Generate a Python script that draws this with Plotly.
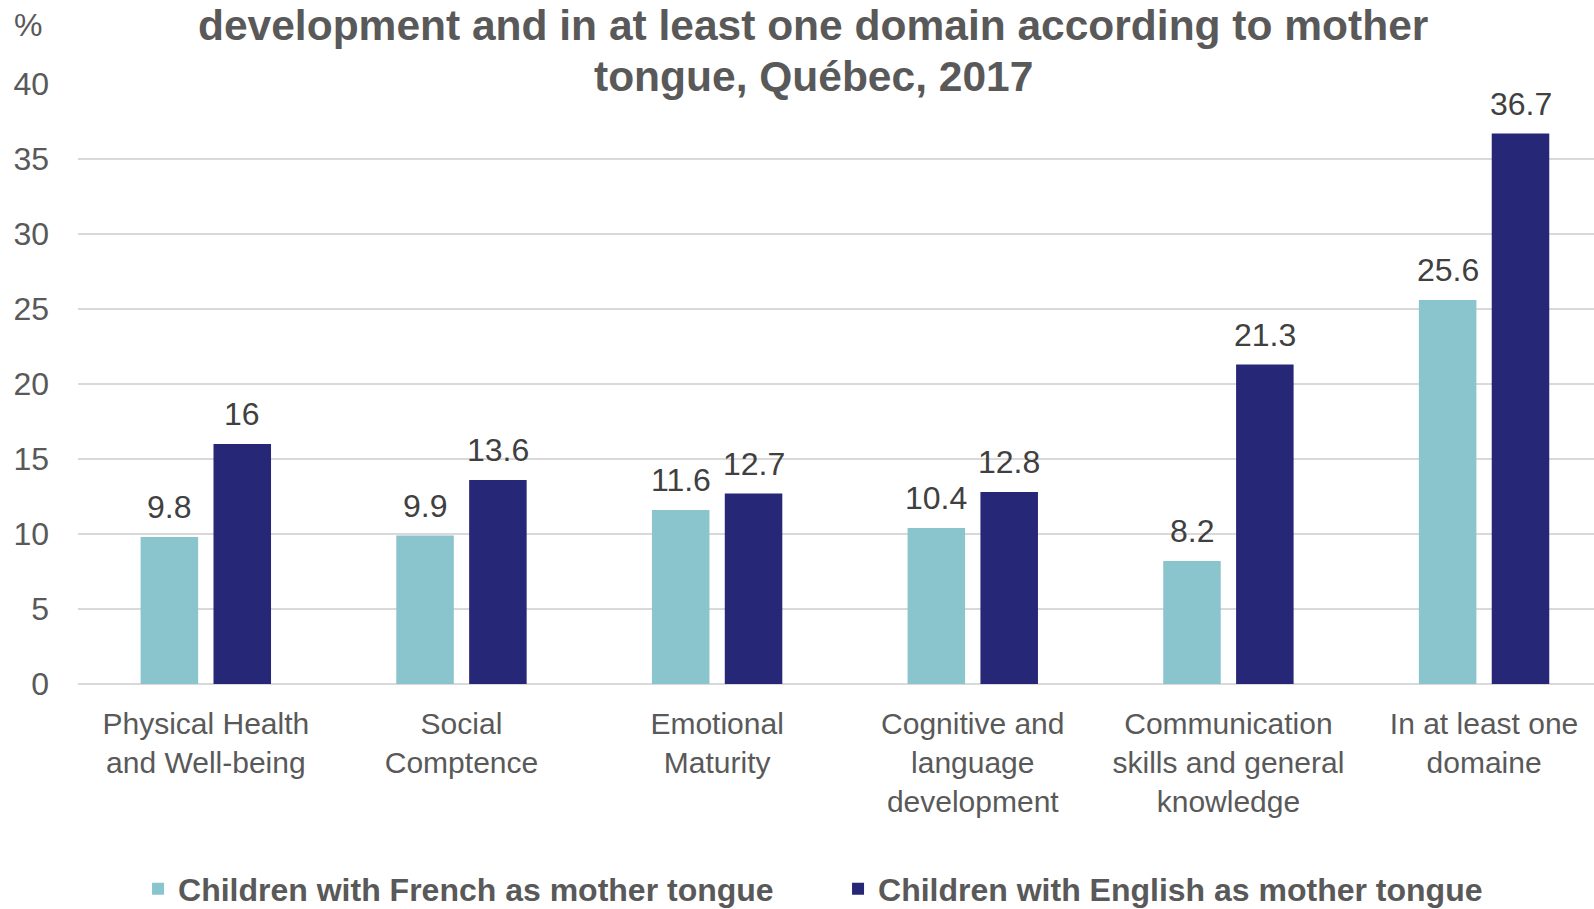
import plotly.graph_objects as go

categories = [
    "Physical Health<br>and Well-being",
    "Social<br>Comptence",
    "Emotional<br>Maturity",
    "Cognitive and<br>language<br>development",
    "Communication<br>skills and general<br>knowledge",
    "In at least one<br>domaine",
]
french = [9.8, 9.9, 11.6, 10.4, 8.2, 25.6]
english = [16, 13.6, 12.7, 12.8, 21.3, 36.7]
y_ticks = [0, 5, 10, 15, 20, 25, 30, 35, 40]

FONT = "Liberation Sans, Arial, sans-serif"
GRAY = "#595959"
LABEL = "#404040"

x = list(range(len(categories)))

# bar geometry in category units (two bars per group with a small gap)
BAR_W = 0.225
series = [
    ("Children with French as mother tongue", french, "#8AC5CE", -0.255),
    ("Children with English as mother tongue", english, "#262777", 0.03),
]

fig = go.Figure()
for name, vals, color, off in series:
    fig.add_trace(go.Bar(
        x=x, y=vals, name=name, width=BAR_W, offset=off,
        marker=dict(color=color, line=dict(width=0)),
    ))
    # value labels above each bar
    for xi, v in zip(x, vals):
        fig.add_annotation(
            x=xi + off + BAR_W / 2, y=v, xref="x", yref="y",
            text=f"{v:g}", showarrow=False, yanchor="middle", yshift=30,
            font=dict(size=32, color=LABEL, family=FONT),
        )

fig.update_layout(
    width=1594, height=909,
    margin=dict(l=78, r=0, t=84, b=225),
    paper_bgcolor="white", plot_bgcolor="white",
    barmode="overlay",
    font=dict(family=FONT, color=GRAY, size=30),
    showlegend=True,
    legend=dict(
        orientation="h", xref="container", yref="container",
        x=0.0866, xanchor="left", y=0.022, yanchor="middle",
        font=dict(size=32, color=GRAY, family=FONT, weight="bold"),
        entrywidth=655, itemwidth=30, tracegroupgap=0,
        bgcolor="rgba(0,0,0,0)",
    ),
    xaxis=dict(
        tickmode="array", tickvals=x, ticktext=categories,
        range=[-0.5, 5.43], showgrid=False, zeroline=False,
        showline=False, ticks="", ticklabelstandoff=19,
        tickfont=dict(size=30, color=GRAY),
    ),
    yaxis=dict(
        range=[0, 40], tickvals=y_ticks, showgrid=True,
        gridcolor="#D9D9D9", gridwidth=1.5, zeroline=True,
        zerolinecolor="#D9D9D9", zerolinewidth=2, showline=False,
        ticks="", ticklabelstandoff=28, tickfont=dict(size=32, color=GRAY),
    ),
)

title_lines = [
    ("development and in at least one domain according to mother", 59),
    ("tongue, Québec, 2017", 8),
]
for line, shift in title_lines:
    fig.add_annotation(
        xref="paper", yref="paper", x=0.485, y=1.0, xanchor="center",
        yanchor="middle", yshift=shift, text=f"<b>{line}</b>",
        showarrow=False, font=dict(size=42.5, color=GRAY, family=FONT),
    )

fig.add_annotation(
    xref="paper", yref="paper", x=0, y=1.0, xanchor="center", yanchor="middle",
    xshift=-50.5, yshift=59, text="%", showarrow=False,
    font=dict(size=32, color=GRAY, family=FONT),
)

fig.write_html("out.html")
